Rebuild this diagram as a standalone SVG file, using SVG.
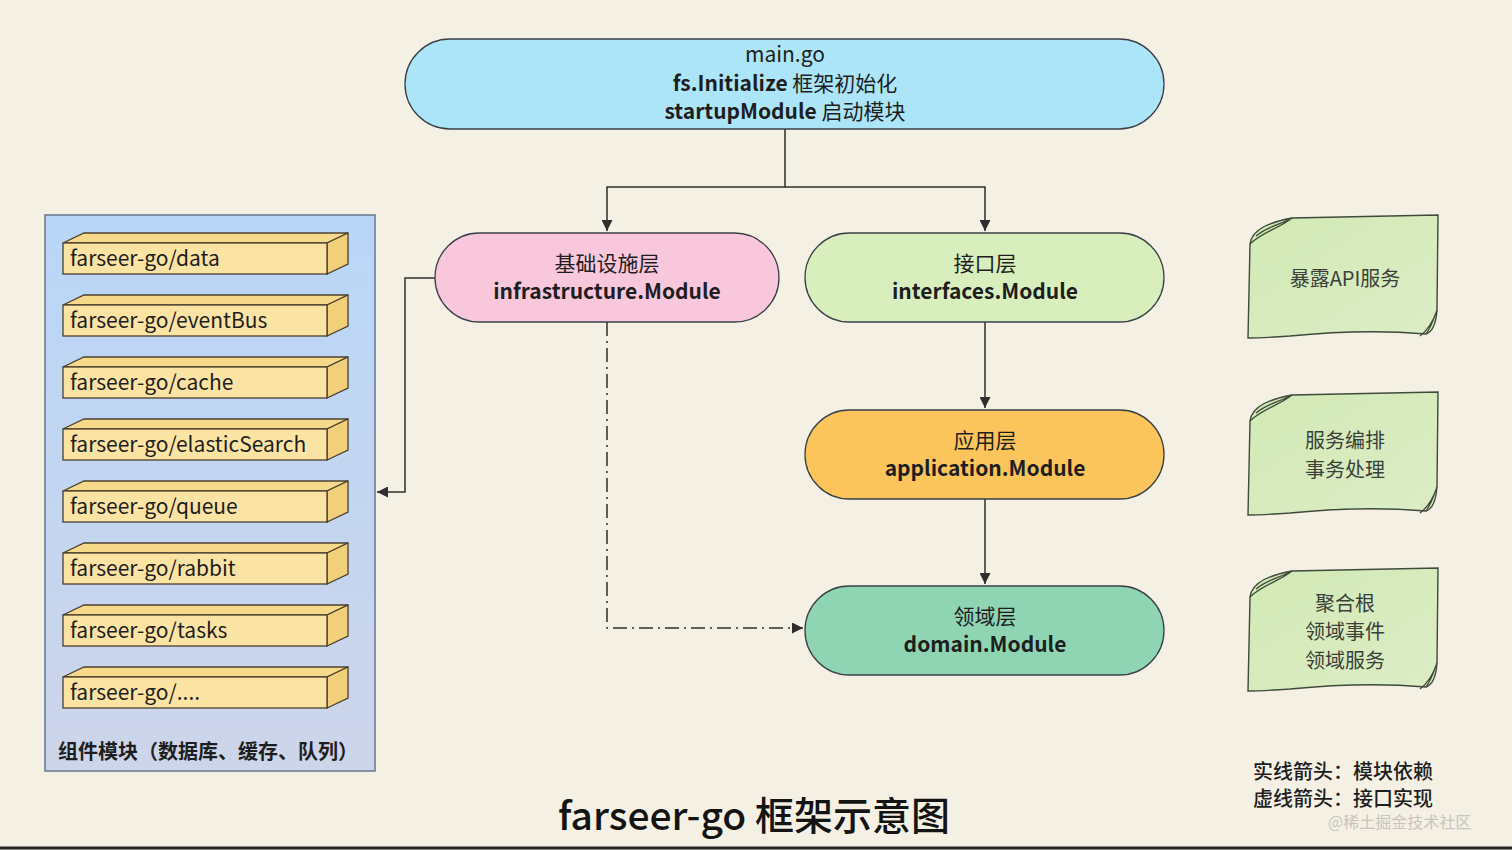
<svg xmlns="http://www.w3.org/2000/svg" width="1512" height="850" viewBox="0 0 1512 850">
<defs>
<style>
text{font-family:"Noto Sans CJK SC","Noto Sans",sans-serif;fill:#1e1e1e}
.n{stroke:#3a4048;stroke-width:1.3}
.lbl{font-size:21px;text-anchor:middle}
.b{font-weight:bold}
.box text{font-size:21px}
.front{fill:#fbe3a4;stroke:#4a4030;stroke-width:1.3}
.top{fill:#f7d98c;stroke:#4a4030;stroke-width:1.3}
.side{fill:#f2cf7a;stroke:#4a4030;stroke-width:1.3}
.note{fill:url(#ng);stroke:#3f4a3a;stroke-width:1.4}
.fold{fill:none;stroke:#3f4a3a;stroke-width:1.2}
.nt{font-size:20px;text-anchor:middle;fill:#3a3f3a}
.c{fill:none;stroke:#2e2e2e;stroke-width:1.5}
.lg{font-size:20px;font-weight:500}
</style>
<linearGradient id="lg" x1="0" y1="0" x2="0" y2="1">
<stop offset="0" stop-color="#b9d6f7"/><stop offset="1" stop-color="#cdd5ea"/>
</linearGradient>
<linearGradient id="ng" x1="0" y1="0" x2="1" y2="1">
<stop offset="0" stop-color="#d2e9b4"/><stop offset="1" stop-color="#dcedc6"/>
</linearGradient>
<marker id="arw" viewBox="0 0 12 12" refX="12" refY="6" markerWidth="11" markerHeight="11" markerUnits="userSpaceOnUse" orient="auto">
<path d="M0,0 L12,6 L0,12 z" fill="#2e2e2e"/>
</marker>
</defs>
<rect x="0" y="0" width="1512" height="850" fill="#f4f0e4"/>
<line x1="0" y1="848" x2="1512" y2="848" stroke="#222" stroke-width="3"/>

<g id="connectors">
<path class="c" d="M785,129 V187 H607 V231" marker-end="url(#arw)"/>
<path class="c" d="M785,187 H985 V231" marker-end="url(#arw)"/>
<path class="c" d="M985,322 V408" marker-end="url(#arw)"/>
<path class="c" d="M985,499 V584" marker-end="url(#arw)"/>
<path class="c" d="M435,278 H405 V492 H377" marker-end="url(#arw)"/>
<path class="c" d="M607,322 V628 H803" stroke-dasharray="14 5 2 5" marker-end="url(#arw)"/>
</g>

<g id="main">
<rect class="n" x="405" y="39" width="759" height="90" rx="45" fill="#ace5f8"/>
<text class="lbl" x="785" y="62">main.go</text>
<text class="lbl" x="785" y="91"><tspan class="b">fs.Initialize</tspan> 框架初始化</text>
<text class="lbl" x="785" y="119"><tspan class="b">startupModule</tspan> 启动模块</text>
</g>

<g id="infrastructure">
<rect class="n" x="435" y="233" width="344" height="89" rx="44.5" fill="#f9c7dc"/>
<text class="lbl" x="607" y="271">基础设施层</text>
<text class="lbl b" x="607" y="299">infrastructure.Module</text>
</g>

<g id="interfaces">
<rect class="n" x="805" y="233" width="359" height="89" rx="44.5" fill="#d8efbd"/>
<text class="lbl" x="985" y="271">接口层</text>
<text class="lbl b" x="985" y="299">interfaces.Module</text>
</g>

<g id="application">
<rect class="n" x="805" y="410" width="359" height="89" rx="44.5" fill="#fbc55c"/>
<text class="lbl" x="985" y="448">应用层</text>
<text class="lbl b" x="985" y="476">application.Module</text>
</g>

<g id="domain">
<rect class="n" x="805" y="586" width="359" height="89" rx="44.5" fill="#8fd5b3"/>
<text class="lbl" x="985" y="624">领域层</text>
<text class="lbl b" x="985" y="652">domain.Module</text>
</g>

<g id="components">
<rect x="45" y="215" width="330" height="556" fill="url(#lg)" stroke="#66768a" stroke-width="1.5"/>
<g class="box" transform="translate(0,0)">
<path class="top" d="M63,243 L84,233 H348 L327,243 Z"/><path class="side" d="M327,243 L348,233 V264 L327,274 Z"/><rect class="front" x="63" y="243" width="264" height="31"/>
<text x="70" y="266">farseer-go/data</text></g>
<g class="box" transform="translate(0,62)">
<path class="top" d="M63,243 L84,233 H348 L327,243 Z"/><path class="side" d="M327,243 L348,233 V264 L327,274 Z"/><rect class="front" x="63" y="243" width="264" height="31"/>
<text x="70" y="266">farseer-go/eventBus</text></g>
<g class="box" transform="translate(0,124)">
<path class="top" d="M63,243 L84,233 H348 L327,243 Z"/><path class="side" d="M327,243 L348,233 V264 L327,274 Z"/><rect class="front" x="63" y="243" width="264" height="31"/>
<text x="70" y="266">farseer-go/cache</text></g>
<g class="box" transform="translate(0,186)">
<path class="top" d="M63,243 L84,233 H348 L327,243 Z"/><path class="side" d="M327,243 L348,233 V264 L327,274 Z"/><rect class="front" x="63" y="243" width="264" height="31"/>
<text x="70" y="266">farseer-go/elasticSearch</text></g>
<g class="box" transform="translate(0,248)">
<path class="top" d="M63,243 L84,233 H348 L327,243 Z"/><path class="side" d="M327,243 L348,233 V264 L327,274 Z"/><rect class="front" x="63" y="243" width="264" height="31"/>
<text x="70" y="266">farseer-go/queue</text></g>
<g class="box" transform="translate(0,310)">
<path class="top" d="M63,243 L84,233 H348 L327,243 Z"/><path class="side" d="M327,243 L348,233 V264 L327,274 Z"/><rect class="front" x="63" y="243" width="264" height="31"/>
<text x="70" y="266">farseer-go/rabbit</text></g>
<g class="box" transform="translate(0,372)">
<path class="top" d="M63,243 L84,233 H348 L327,243 Z"/><path class="side" d="M327,243 L348,233 V264 L327,274 Z"/><rect class="front" x="63" y="243" width="264" height="31"/>
<text x="70" y="266">farseer-go/tasks</text></g>
<g class="box" transform="translate(0,434)">
<path class="top" d="M63,243 L84,233 H348 L327,243 Z"/><path class="side" d="M327,243 L348,233 V264 L327,274 Z"/><rect class="front" x="63" y="243" width="264" height="31"/>
<text x="70" y="266">farseer-go/....</text></g>
<text x="58" y="759" class="b" style="font-size:20px">组件模块（数据库、缓存、队列）</text>
</g>

<g id="note-api">
<path class="note" d="M1250,244 C1252,228 1272,222 1292,218 L1438,215 L1437,310 C1436,324 1432,332 1426,334 C1380,330 1330,332 1290,336 C1275,337 1260,338 1248,338 Z"/>
<path class="fold" d="M1250,244 C1262,232 1280,228 1292,218 M1256,236 C1268,226 1282,224 1292,218 M1426,334 C1432,326 1434,318 1437,310 M1420,336 C1428,330 1433,322 1437,310"/>
<text class="nt" x="1345" y="286">暴露API服务</text>
</g>
<g id="note-app" transform="translate(0,177)">
<path class="note" d="M1250,244 C1252,228 1272,222 1292,218 L1438,215 L1437,310 C1436,324 1432,332 1426,334 C1380,330 1330,332 1290,336 C1275,337 1260,338 1248,338 Z"/>
<path class="fold" d="M1250,244 C1262,232 1280,228 1292,218 M1256,236 C1268,226 1282,224 1292,218 M1426,334 C1432,326 1434,318 1437,310 M1420,336 C1428,330 1433,322 1437,310"/>
<text class="nt" x="1345" y="271">服务编排</text>
<text class="nt" x="1345" y="300">事务处理</text>
</g>
<g id="note-domain" transform="translate(0,353)">
<path class="note" d="M1250,244 C1252,228 1272,222 1292,218 L1438,215 L1437,310 C1436,324 1432,332 1426,334 C1380,330 1330,332 1290,336 C1275,337 1260,338 1248,338 Z"/>
<path class="fold" d="M1250,244 C1262,232 1280,228 1292,218 M1256,236 C1268,226 1282,224 1292,218 M1426,334 C1432,326 1434,318 1437,310 M1420,336 C1428,330 1433,322 1437,310"/>
<text class="nt" x="1345" y="258">聚合根</text>
<text class="nt" x="1345" y="286">领域事件</text>
<text class="nt" x="1345" y="315">领域服务</text>
</g>

<g id="legend">
<text class="lg" x="1253" y="779">实线箭头：模块依赖</text>
<text class="lg" x="1253" y="806">虚线箭头：接口实现</text>
</g>
<text x="1328" y="828" style="font-size:16px;fill:#c8c4bc">@稀土掘金技术社区</text>
<text x="754" y="830" style="font-size:39px;font-weight:500;text-anchor:middle;fill:#141414">farseer-go 框架示意图</text>
</svg>
